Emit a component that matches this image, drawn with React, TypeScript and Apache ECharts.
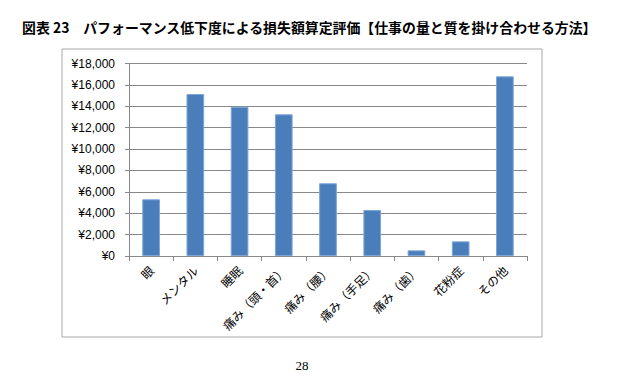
import React, { useEffect, useRef } from "react";
import * as echarts from "echarts";

const titleText = "図表 23　パフォーマンス低下度による損失額算定評価【仕事の量と質を掛け合わせる方法】";
const categories = ["眼", "メンタル", "睡眠", "痛み（頭・首）", "痛み（腰）", "痛み（手足）", "痛み（歯）", "花粉症", "その他"];
const values = [5300, 15150, 13950, 13250, 6800, 4300, 530, 1370, 16800];
const pageNumber = "28";

export default function App() {
  const ref = useRef<HTMLDivElement>(null);
  useEffect(() => {
    if (!ref.current) return;
    const chart = echarts.init(ref.current, null, { renderer: "svg" });
    chart.setOption({
      animation: false,
      backgroundColor: "#ffffff",
      title: {
        text: titleText,
        left: 17,
        top: 15,
        textStyle: {
          fontSize: 13.9,
          fontWeight: "bold",
          color: "#000",
          fontFamily: "'Noto Sans CJK JP', sans-serif",
        },
      },
      graphic: [
        {
          type: "rect",
          shape: { x: 62, y: 49, width: 480, height: 288 },
          style: { fill: "none", stroke: "#a6a6a6", lineWidth: 1 },
          silent: true,
          z: -1,
        },
        {
          type: "text",
          x: 302,
          y: 365,
          style: {
            text: pageNumber,
            fontSize: 13,
            fontFamily: "'Liberation Serif', serif",
            fill: "#000",
            align: "center",
            verticalAlign: "middle",
          },
        },
      ],
      grid: { left: 129, right: 99, top: 63.5, bottom: 123, containLabel: false },
      xAxis: {
        type: "category",
        data: categories,
        axisLine: { show: true, lineStyle: { color: "#888", width: 1 } },
        axisTick: { show: true, length: 5, lineStyle: { color: "#888" } },
        axisLabel: {
          rotate: 45,
          interval: 0,
          margin: 12,
          fontSize: 12,
          color: "#000",
          fontFamily: "'Noto Sans CJK JP', sans-serif",
        },
      },
      yAxis: {
        type: "value",
        min: 0,
        max: 18000,
        interval: 2000,
        axisLine: { show: true, lineStyle: { color: "#888", width: 1 } },
        axisTick: { show: true, length: 4, lineStyle: { color: "#888" } },
        splitLine: { show: true, lineStyle: { color: "#888", width: 1 } },
        axisLabel: {
          margin: 14,
          fontSize: 12,
          color: "#000",
          fontFamily: "'Liberation Sans', Arial, sans-serif",
          formatter: (v: number) => "¥" + v.toLocaleString("en-US"),
        },
      },
      series: [
        {
          type: "bar",
          data: values,
          barWidth: "40%",
          itemStyle: { color: "#4a7ebb", borderColor: "#7ea6d8", borderWidth: 1 },
        },
      ],
    });
    return () => chart.dispose();
  }, []);
  return (
    <div
      ref={ref}
      style={{ position: "fixed", left: 0, top: 0, width: 626, height: 379 }}
    />
  );
}
